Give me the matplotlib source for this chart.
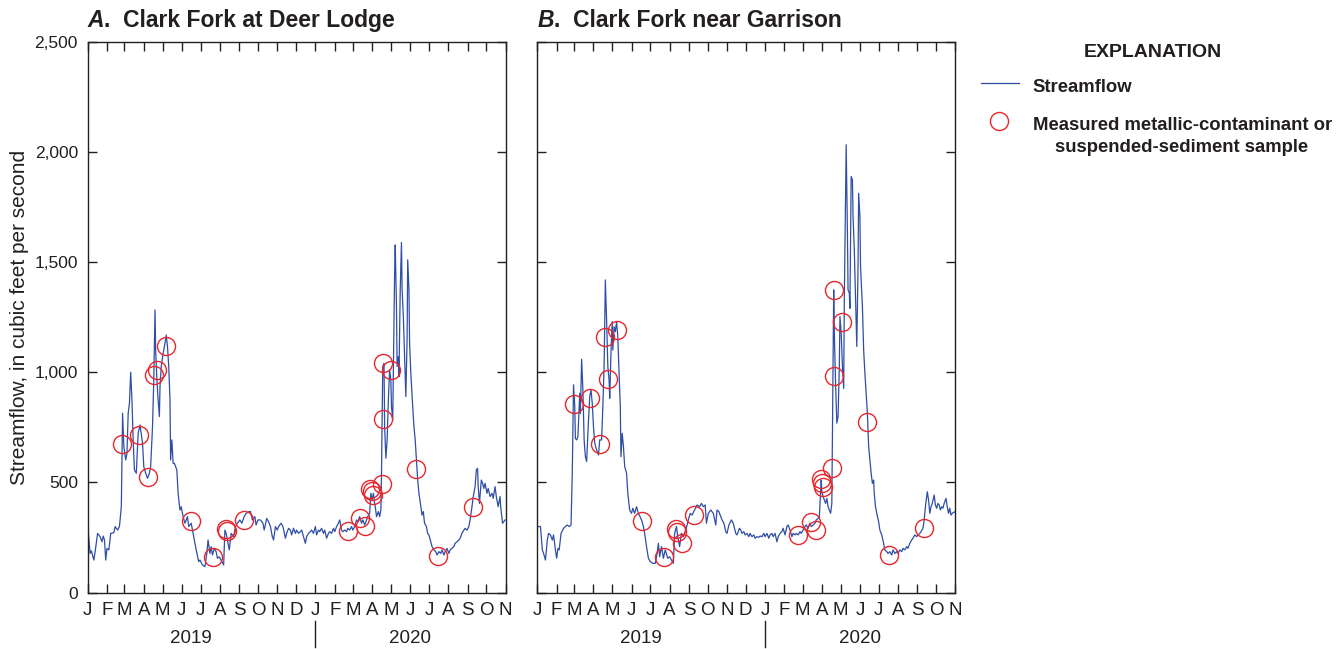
import numpy as np
import matplotlib
matplotlib.use("Agg")
import matplotlib.pyplot as plt
import matplotlib.dates as mdates
from matplotlib.lines import Line2D

plt.rcParams['font.family'] = ['Liberation Sans', 'DejaVu Sans']

# Daily streamflow, in cubic feet per second; days counted from 1 Jan 2019
day_a = [0, 4, 6, 10, 12, 16, 20, 23, 25, 27, 29, 31, 34, 37, 42, 44, 48, 51, 54, 56, 58, 61, 63, 65, 67, 69,
         71, 73, 75, 78, 81, 84, 88, 90, 93, 96, 99, 101, 104, 106, 108, 109, 111, 113, 115, 116, 118, 121, 124,
         126, 128, 130, 132, 133, 135, 137, 139, 143, 145, 148, 150, 153, 156, 160, 162, 166, 169, 171, 174, 178,
         180, 184, 188, 191, 193, 196, 198, 200, 203, 206, 208, 211, 215, 218, 220, 222, 224, 227, 230, 234, 237,
         240, 244, 247, 251, 254, 259, 261, 264, 268, 270, 273, 277, 281, 283, 287, 290, 293, 296, 298, 301, 304,
         306, 310, 313, 317, 319, 322, 325, 327, 330, 333, 335, 338, 341, 343, 346, 349, 351, 354, 357, 359, 362,
         365, 367, 370, 372, 375, 378, 380, 383, 386, 388, 391, 394, 396, 399, 402, 404, 407, 409, 412, 415, 417,
         420, 423, 425, 428, 431, 433, 436, 439, 441, 444, 447, 449, 452, 454, 456, 458, 460, 461, 463, 466, 468,
         470, 471, 473, 475, 476, 478, 480, 482, 484, 486, 487, 489, 490, 492, 493, 495, 496, 498, 499, 501, 503,
         504, 506, 508, 510, 512, 513, 515, 516, 518, 521, 523, 525, 527, 529, 531, 534, 536, 538, 540, 543, 545,
         547, 550, 552, 555, 558, 560, 563, 566, 568, 571, 573, 576, 579, 581, 584, 587, 589, 592, 595, 597, 600,
         603, 605, 608, 611, 613, 616, 618, 621, 623, 625, 626, 628, 631, 633, 635, 637, 640, 642, 645, 648, 650,
         653, 655, 658, 661, 662, 665, 669]
flow_a = [307, 178, 190, 148, 186, 269, 254, 231, 257, 239, 148, 201, 194, 269, 272, 300, 284, 300, 390, 814,
          663, 602, 632, 814, 859, 1000, 874, 693, 557, 542, 723, 761, 678, 572, 542, 519, 542, 572, 753, 965,
          1283, 1101, 965, 874, 799, 935, 1026, 1086, 1132, 1169, 1116, 1026, 874, 602, 693, 587, 587, 557, 451,
          375, 390, 345, 315, 345, 300, 315, 269, 239, 194, 141, 148, 126, 118, 178, 239, 178, 209, 171, 201, 186,
          156, 163, 141, 126, 284, 269, 239, 194, 269, 254, 300, 315, 330, 315, 345, 360, 368, 368, 330, 345, 307,
          330, 330, 315, 284, 337, 322, 300, 254, 239, 300, 284, 300, 315, 300, 247, 269, 292, 284, 262, 292, 269,
          284, 269, 277, 284, 254, 224, 254, 269, 277, 284, 269, 300, 262, 284, 277, 292, 269, 284, 247, 269, 277,
          269, 292, 277, 300, 315, 330, 284, 277, 284, 277, 292, 284, 300, 284, 300, 330, 322, 345, 315, 330, 307,
          330, 345, 360, 451, 421, 451, 405, 390, 345, 368, 345, 375, 542, 1026, 1041, 753, 610, 693, 874, 1011,
          965, 844, 784, 995, 1449, 1578, 1298, 1026, 1071, 980, 1374, 1589, 1374, 1253, 1071, 890, 1147, 1510,
          1374, 1132, 995, 844, 753, 693, 602, 511, 451, 390, 352, 368, 315, 300, 269, 262, 231, 209, 194, 186,
          171, 186, 178, 194, 171, 186, 201, 178, 194, 201, 209, 224, 231, 239, 247, 269, 284, 292, 284, 300, 330,
          390, 436, 481, 557, 564, 481, 405, 511, 496, 473, 496, 451, 473, 436, 451, 428, 481, 436, 390, 436, 390,
          315, 330]

day_b = [0, 5, 8, 10, 13, 16, 18, 21, 24, 26, 29, 31, 33, 35, 38, 42, 45, 48, 51, 54, 56, 58, 60, 61, 63, 65,
         68, 69, 71, 73, 75, 77, 79, 82, 84, 86, 88, 90, 92, 95, 98, 100, 103, 105, 107, 109, 111, 113, 115, 116,
         118, 120, 121, 123, 125, 127, 129, 131, 133, 134, 136, 138, 140, 143, 145, 148, 151, 153, 156, 159, 162,
         167, 170, 172, 175, 178, 181, 185, 189, 192, 194, 196, 199, 202, 205, 209, 212, 215, 218, 220, 223, 225,
         228, 231, 234, 238, 242, 245, 248, 252, 256, 260, 263, 266, 269, 271, 274, 278, 282, 286, 288, 291, 294,
         296, 299, 302, 304, 307, 311, 314, 318, 320, 324, 326, 328, 331, 333, 336, 339, 341, 344, 347, 349, 352,
         355, 357, 360, 363, 365, 368, 371, 373, 376, 378, 381, 384, 386, 389, 392, 394, 397, 400, 402, 405, 408,
         410, 413, 415, 418, 421, 423, 426, 429, 431, 434, 437, 439, 442, 445, 447, 450, 452, 455, 456, 458, 460,
         462, 464, 466, 468, 470, 472, 473, 475, 476, 478, 480, 482, 484, 485, 487, 489, 491, 492, 494, 495, 497,
         498, 500, 501, 503, 505, 506, 508, 510, 512, 514, 515, 517, 518, 521, 523, 525, 527, 529, 531, 533, 535,
         537, 539, 540, 542, 544, 547, 549, 552, 555, 557, 560, 562, 565, 568, 570, 573, 576, 578, 581, 584, 586,
         589, 592, 594, 597, 600, 602, 605, 608, 610, 613, 615, 618, 620, 622, 625, 627, 629, 631, 633, 636, 638,
         640, 642, 644, 646, 648, 650, 652, 655, 657, 659, 661, 663, 665, 669]
flow_b = [300, 300, 194, 178, 148, 239, 269, 262, 239, 262, 194, 156, 201, 194, 269, 292, 300, 307, 300, 307,
          542, 943, 844, 700, 693, 708, 905, 814, 1059, 920, 693, 617, 595, 784, 890, 920, 859, 753, 678, 647,
          625, 693, 693, 844, 1026, 1419, 1237, 1026, 965, 882, 1086, 1230, 1101, 1207, 1184, 1230, 1162, 995,
          844, 617, 723, 663, 572, 542, 451, 375, 360, 383, 360, 390, 360, 330, 300, 269, 209, 156, 141, 133, 133,
          178, 224, 163, 209, 156, 194, 156, 163, 148, 133, 269, 300, 254, 209, 269, 254, 284, 330, 360, 352, 375,
          398, 390, 405, 390, 398, 315, 360, 375, 360, 307, 375, 368, 345, 330, 315, 277, 269, 307, 330, 315, 269,
          262, 292, 284, 269, 277, 262, 269, 254, 269, 254, 262, 247, 254, 251, 257, 254, 269, 254, 269, 247, 262,
          269, 254, 269, 231, 254, 269, 277, 292, 262, 300, 307, 284, 254, 269, 262, 269, 262, 277, 269, 284, 300,
          307, 292, 315, 300, 307, 315, 330, 337, 345, 511, 458, 436, 421, 405, 428, 390, 375, 360, 405, 723, 1374,
          1177, 950, 769, 799, 1026, 1253, 1177, 1026, 927, 1328, 1782, 2032, 1631, 1374, 1359, 1290, 1888, 1873,
          1707, 1555, 1328, 1117, 1480, 1812, 1707, 1480, 1298, 1101, 995, 905, 814, 663, 602, 542, 496, 511, 451,
          390, 360, 322, 284, 262, 224, 194, 186, 178, 186, 171, 194, 178, 186, 178, 194, 186, 201, 194, 209, 201,
          224, 239, 247, 262, 254, 262, 269, 277, 292, 330, 390, 458, 421, 360, 390, 405, 443, 398, 383, 405, 398,
          375, 390, 383, 405, 428, 390, 360, 383, 352, 360, 367]

# Sample collection dates and streamflow at time of sampling
sample_day_a = [55, 83, 97, 107, 111, 125, 166, 201, 221, 223, 250,
                417, 436, 444, 453, 455, 457, 471, 473, 474, 486, 527, 562, 618]
sample_flow_a = [675, 717, 525, 989, 1011, 1121, 327, 163, 287, 281, 330,
                 281, 337, 303, 470, 460, 445, 495, 788, 1041, 1011, 560, 166, 390]
sample_day_b = [59, 85, 100, 114, 108, 127, 168, 203, 222, 224, 232, 251,
                418, 438, 446, 454, 456, 458, 473, 475, 475, 488, 529, 564, 620]
sample_flow_b = [856, 882, 675, 970, 1159, 1191, 325, 160, 287, 277, 224, 354,
                 262, 322, 284, 514, 497, 478, 566, 985, 1371, 1230, 776, 171, 293]

titles = [('A', '.  Clark Fork at Deer Lodge'), ('B', '.  Clark Fork near Garrison')]
month_letters = 'JFMAMJJASOND'
years = ['2019', '2020']
year_centers = ['2019-06-16', '2020-06-01']

line_color = '#2f4ea5'
circle_color = '#e8262c'
ink = '#231f20'

start = np.datetime64('2019-01-01')


def to_dates(days):
    return start + np.array(days).astype('timedelta64[D]')


fig = plt.figure(figsize=(13.42, 6.49), dpi=100)
ax_a = fig.add_axes([0.0653, 0.0868, 0.3115, 0.849])
ax_b = fig.add_axes([0.4004, 0.0868, 0.3115, 0.849])

months = np.arange(np.datetime64('2019-01'), np.datetime64('2020-12'),
                   np.timedelta64(1, 'M')).astype('datetime64[D]')
month_labels = [month_letters[i % 12] for i in range(len(months))]

panels = [(ax_a, day_a, flow_a, sample_day_a, sample_flow_a),
          (ax_b, day_b, flow_b, sample_day_b, sample_flow_b)]

for i, (ax, d, q, sd, sq) in enumerate(panels):
    ax.plot(to_dates(d), q, color=line_color, lw=0.9, zorder=2)
    ax.plot(to_dates(sd), sq, 'o', ms=13, mfc='none', mec=circle_color, mew=1.0, zorder=3)

    ax.set_xlim(months[0], months[-1])
    ax.set_ylim(0, 2500)
    ax.set_xticks(months)
    ax.set_xticklabels(month_labels, fontsize=13.5, color=ink)
    ax.set_yticks(range(0, 2501, 500))
    ax.set_yticklabels([f'{v:,}' for v in range(0, 2501, 500)], fontsize=12.5, color=ink)
    ax.tick_params(direction='in', top=True, right=True, length=6.5, width=1.0,
                   color=ink, pad=7)
    if i == 1:
        ax.tick_params(labelleft=False)
    for s in ax.spines.values():
        s.set_linewidth(1.0)
        s.set_color(ink)

    # year labels and divider below the month letters
    tr = ax.get_xaxis_transform()
    for yr, c in zip(years, year_centers):
        ax.text(np.datetime64(c), -0.092, yr, transform=tr, ha='center', va='baseline',
                fontsize=13.5, color=ink)
    jan = mdates.date2num(np.datetime64('2020-01-01'))
    ax.add_line(Line2D([jan, jan], [-0.052, -0.099], transform=tr, color=ink,
                       lw=1.0, clip_on=False))

    # panel title with italic letter
    letter, rest = titles[i]
    t1 = ax.text(0, 1.027, letter, transform=ax.transAxes, fontsize=16.5,
                 fontweight='bold', fontstyle='italic', va='baseline', ha='left', color=ink)
    ax.annotate(rest, xy=(1, 0), xycoords=t1, va='bottom', ha='left',
                fontsize=16.5, fontweight='bold', color=ink)

fig.text(20 / 1342, 1 - 317 / 649, 'Streamflow, in cubic feet per second', rotation=90,
         ha='center', va='center', fontsize=15, color=ink)

# Explanation block
W, H = 1342, 649
fig.text(1153 / W, 1 - 57.3 / H, 'EXPLANATION', ha='center', va='baseline',
         fontsize=14, fontweight='bold', color=ink)
fig.add_artist(Line2D([980.7 / W, 1019.3 / W], [1 - 82.7 / H, 1 - 82.7 / H],
                      color=line_color, lw=0.9))
fig.text(1032.7 / W, 1 - 91.7 / H, 'Streamflow', ha='left', va='baseline',
         fontsize=13.3, fontweight='bold', color=ink)
fig.add_artist(Line2D([999 / W], [1 - 121 / H], marker='o', ms=13, mfc='none',
                      mec=circle_color, mew=1.0, linestyle='none'))
fig.text(1032.7 / W, 1 - 130 / H, 'Measured metallic-contaminant or', ha='left',
         va='baseline', fontsize=13.3, fontweight='bold', color=ink)
fig.text(1182 / W, 1 - 151.7 / H, 'suspended-sediment sample', ha='center',
         va='baseline', fontsize=13.3, fontweight='bold', color=ink)

fig.savefig('out.png', dpi=100)
